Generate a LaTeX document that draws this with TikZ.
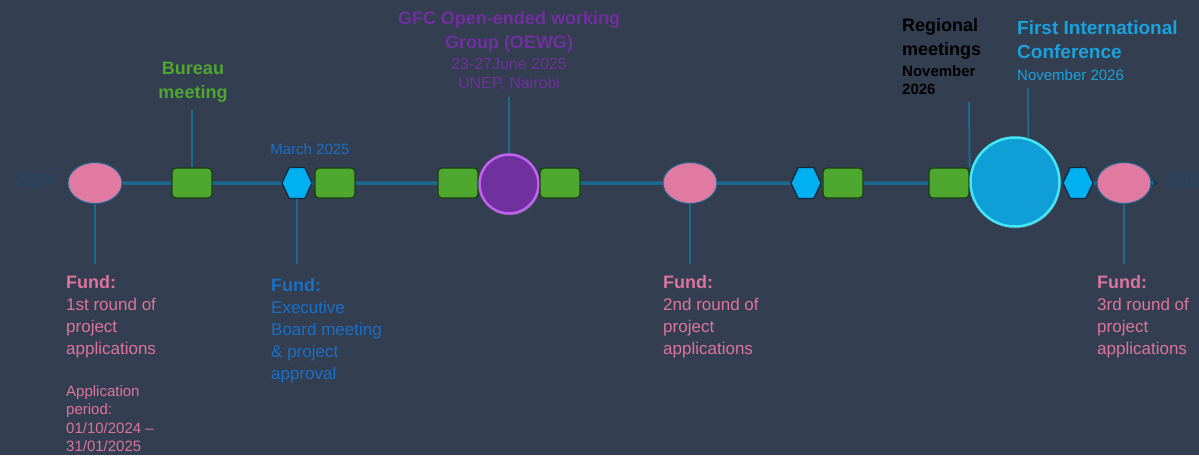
\documentclass[tikz,border=0pt]{standalone}
\usepackage{fontspec}
\setmainfont{Liberation Sans}
\usetikzlibrary{positioning,shapes.geometric,shapes.symbols,arrows.meta,shadows}

\definecolor{bgslate}{HTML}{333E50}
\definecolor{tlteal}{HTML}{1C6A90}
\definecolor{tipdark}{HTML}{173A54}
\definecolor{fundpink}{HTML}{E17AA0}
\definecolor{fundtext}{HTML}{DC74A0}
\definecolor{meetgreen}{HTML}{4EA72E}
\definecolor{meetedge}{HTML}{1A3F12}
\definecolor{hexblue}{HTML}{00B0F0}
\definecolor{hexedge}{HTML}{14283C}
\definecolor{oewgpurple}{HTML}{7030A0}
\definecolor{oewgedge}{HTML}{C263F0}
\definecolor{confblue}{HTML}{0F9ED5}
\definecolor{confedge}{HTML}{45E6F8}
\definecolor{conftext}{HTML}{1BA1DC}
\definecolor{boardblue}{HTML}{1B70C6}
\definecolor{yeardark}{HTML}{1D4870}

\tikzset{
	tl/.style={draw=tlteal, line width=3.5pt},
	lead/.style={draw=tlteal, line width=2pt},
	fundmark/.style={ellipse, draw=tlteal, line width=1pt, fill=fundpink,
		minimum width=54pt, minimum height=41pt, inner sep=0pt},
	meetmark/.style={rectangle, rounded corners=4pt, draw=meetedge, line width=1.2pt,
		fill=meetgreen, minimum width=40pt, minimum height=30pt, inner sep=0pt},
	boardmark/.style={signal, signal to=east and west, signal pointer angle=130,
		draw=hexedge, line width=1.2pt, fill=hexblue,
		minimum width=30pt, minimum height=31pt, inner sep=0pt},
	oewgmark/.style={circle, draw=oewgedge, line width=2.5pt, fill=oewgpurple,
		minimum size=59pt, inner sep=0pt,
		drop shadow={opacity=0.35, shadow xshift=1pt, shadow yshift=-2pt}},
	confmark/.style={circle, draw=confedge, line width=2.5pt, fill=confblue,
		minimum size=89pt, inner sep=0pt,
		drop shadow={opacity=0.35, shadow xshift=1pt, shadow yshift=-2pt}},
	yeartxt/.style={inner sep=0pt, text=yeardark, font=\fontsize{18}{22}\selectfont},
	fundtxt/.style={anchor=north west, align=left, inner sep=0pt,
		font=\fontsize{17}{22}\selectfont},
	smalltxt/.style={align=left, inner sep=0pt, font=\fontsize{15}{19}\selectfont},
	headtxt/.style={inner sep=0pt, font=\bfseries\fontsize{18}{24}\selectfont},
}
\newcommand{\fundhead}{{\bfseries\fontsize{18}{22}\selectfont Fund:}}

\begin{document}
\begin{tikzpicture}[x=1pt,y=-1pt]
	\useasboundingbox (0,0) rectangle (1199,455);
	\fill [bgslate] (0,0) rectangle (1199,455);

	% markers on the line
	\node [fundmark] (f1) at (95,183) {};
	\node [meetmark] (m1) at (192,183) {};
	\node [boardmark] (h1) at (297,183) {};
	\node [meetmark] (m2) at (335,183) {};
	\node [meetmark] (m3) at (458,183) {};
	\node [oewgmark] (o1) at (509,184) {};
	\node [meetmark] (m4) at (560,183) {};
	\node [fundmark] (f2) at (690,183) {};
	\node [boardmark] (h2) at (806,183) {};
	\node [meetmark] (m5) at (843,183) {};
	\node [meetmark] (m6) at (949,183) {};
	\node [confmark] (c1) at (1015,182) {};
	\node [boardmark] (h3) at (1078,183) {};
	\node [fundmark] (f3) at (1124,183) {};
	\coordinate (tend) at (1158,183);

	\draw [tl] (f1) -- (m1) -- (h1) -- (m2) -- (m3) -- (o1) -- (m4) -- (f2) -- (h2)
		-- (m5) -- (m6) -- (c1) -- (h3) -- (f3);
	\draw [tl, -{Stealth[length=6pt, width=10pt, color=tipdark]}] (f3) -- (tend);

	\node [yeartxt, anchor=west] (y0) at (15,180) {2024};
	\node [yeartxt, anchor=west] (y1) at (1168,180) {2027};

	% texts above
	\node [headtxt, text=meetgreen, align=center, anchor=north] (bu) at (193,62) {Bureau\\meeting};
	\node [smalltxt, text=boardblue, anchor=north] (mar) at (310,143) {March 2025};
	\node [headtxt, text=oewgpurple, align=center, anchor=north] (oewg) at (509,11)
		{GFC Open-ended working\\Group (OEWG)};
	\node [smalltxt, text=oewgpurple, align=center, font=\fontsize{16}{19}\selectfont,
		below=6pt of oewg] (oewgd) {23-27June 2025\\UNEP, Nairobi};
	\node [headtxt, text=black, align=left, anchor=north west] (reg) at (902,18)
		{Regional\\meetings};
	\node [smalltxt, text=black, font=\bfseries\fontsize{15}{18}\selectfont,
		below=6pt of reg.south west, anchor=north west] (regd) {November\\2026};
	\node [headtxt, text=conftext, align=left, anchor=north west,
		font=\bfseries\fontsize{19}{24}\selectfont] (conf) at (1017,21)
		{First International\\Conference};
	\node [smalltxt, text=conftext, below=10pt of conf.south west, anchor=north west] (confd)
		{November 2026};

	% texts below
	\node [fundtxt, text=fundtext] (f1t) at (66,275)
		{\fundhead\\1st round of\\project\\applications};
	\node [smalltxt, text=fundtext, font=\fontsize{15}{18.5}\selectfont,
		below=27pt of f1t.south west, anchor=north west] (f1p)
		{Application\\period:\\01/10/2024 --\\31/01/2025};
	\node [fundtxt, text=boardblue] (h1t) at (271,278)
		{\fundhead\\Executive\\Board meeting\\\& project\\approval};
	\node [fundtxt, text=fundtext] (f2t) at (663,275)
		{\fundhead\\2nd round of\\project\\applications};
	\node [fundtxt, text=fundtext] (f3t) at (1097,275)
		{\fundhead\\3rd round of\\project\\applications};

	% leader lines
	\coordinate (f1e) at (95,264);
	\coordinate (m1e) at (192,110);
	\coordinate (h1e) at (297,264);
	\coordinate (o1e) at (509,97);
	\coordinate (f2e) at (690,264);
	\coordinate (m6e) at (969,102);
	\coordinate (c1e) at (1028,88);
	\coordinate (f3e) at (1124,264);
	\draw [lead] (f1) -- (f1e);
	\draw [lead] (m1) -- (m1e);
	\draw [lead] (h1) -- (h1e);
	\draw [lead] (o1) -- (o1e);
	\draw [lead] (f2) -- (f2e);
	\draw [lead] (m6.north east) -- (m6e);
	\draw [lead] (c1.73) -- (c1e);
	\draw [lead] (f3) -- (f3e);
\end{tikzpicture}
\end{document}
